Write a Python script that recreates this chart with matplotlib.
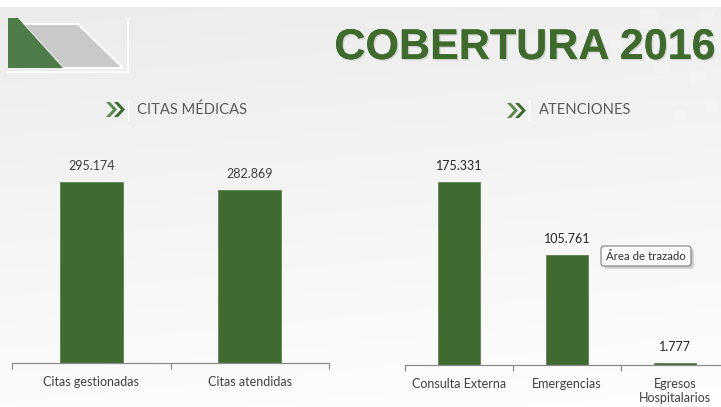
import numpy as np
import matplotlib
matplotlib.use("Agg")
import matplotlib.pyplot as plt
from matplotlib.patches import Polygon, FancyBboxPatch
import matplotlib.patheffects as pe

# ---------------- data ----------------
title = "COBERTURA 2016"
left_title = "CITAS MÉDICAS"
left_categories = ["Citas gestionadas", "Citas atendidas"]
left_values = [295174, 282869]
left_labels = ["295.174", "282.869"]

right_title = "ATENCIONES"
right_categories = ["Consulta Externa", "Emergencias", "Egresos\nHospitalarios"]
right_values = [175331, 105761, 1777]
right_labels = ["175.331", "105.761", "1.777"]

tooltip_text = "Área de trazado"

# ---------------- style ----------------
W, H = 721, 407
DPI = 100
BAR = "#3F6A30"
GREEN_TITLE = "#3E6B2C"
TXT = "#404040"
HDR = "#595959"
small_font = ["Lato", "DejaVu Sans"]

fig = plt.figure(figsize=(W / DPI, H / DPI), dpi=DPI)

# background in pixel coordinates
bg = fig.add_axes([0, 0, 1, 1], zorder=-10)
bg.set_xlim(0, W)
bg.set_ylim(H, 0)
bg.axis("off")
yy, xx = np.mgrid[0:H, 0:W]
grad = 0.925 + 0.06 * (yy / H) + 0.01 * (xx / W)
grad = np.clip(grad, 0, 1)
img = np.dstack([grad, grad, grad])
img[:7, :, :] = 1.0
bg.imshow(img, extent=(0, W, H, 0), aspect="auto", interpolation="bilinear")

# faint checker pattern top-right
for (x0, y0, s) in [(640, 10, 18), (670, 28, 16), (700, 12, 14), (655, 60, 14),
                    (690, 70, 16), (610, 40, 12), (705, 100, 12), (675, 110, 10)]:
    bg.add_patch(Polygon([(x0, y0), (x0 + s, y0), (x0 + s, y0 + s), (x0, y0 + s)],
                         closed=True, fc="white", ec="none", alpha=0.18))

# top-left decoration
bg.add_patch(Polygon([(23, 24), (78, 24), (123, 68), (63, 68)], closed=True,
                     fc="#C9C9C9", ec="white", lw=1.5))
bg.add_patch(Polygon([(8, 18), (18, 18), (63, 68), (8, 68)], closed=True,
                     fc="#4F7D4A", ec="none"))
bg.plot([8, 128], [72, 72], color="white", lw=1.5)
bg.plot([128, 128], [19, 72], color="white", lw=1.5)

# title
bg.text(715, 48, title, ha="right", va="center", fontsize=31,
        fontweight="bold", family=["Liberation Sans", "DejaVu Sans"],
        color=GREEN_TITLE,
        path_effects=[pe.withSimplePatchShadow(offset=(1, -1),
                                               shadow_rgbFace="#777777", alpha=0.25),
                      pe.Normal()])


def chevrons(x, top, bottom):
    mid = (top + bottom) / 2
    t, h = 4, 7
    for i, col in enumerate(["#5A8A4E", "#3B6B2D"]):
        xs = x + i * 8
        bg.add_patch(Polygon([(xs, top), (xs + t, top), (xs + t + h, mid),
                              (xs + t, bottom), (xs, bottom), (xs + h, mid)],
                             closed=True, fc=col, ec="none"))


chevrons(106, 102, 117)
bg.plot([128, 128], [100, 120], color="white", lw=1)
bg.text(137, 110, left_title, ha="left", va="center", fontsize=10.6,
        family=small_font, color=HDR)
chevrons(507, 103, 118)
bg.plot([529, 529], [100, 120], color="white", lw=1)
bg.text(539, 110, right_title, ha="left", va="center", fontsize=10.6,
        family=small_font, color=HDR)


def make_axes(x0, x1, ybot, ytop):
    return fig.add_axes([x0 / W, (H - ybot) / H, (x1 - x0) / W, (ybot - ytop) / H])


def style(ax, n):
    ax.set_facecolor("none")
    for s in ["top", "right", "left"]:
        ax.spines[s].set_visible(False)
    ax.spines["bottom"].set_color("#8C8C8C")
    ax.spines["bottom"].set_linewidth(0.9)
    ax.set_yticks([])
    ax.set_xlim(-0.5, n - 0.5)
    ax.set_xticks(np.arange(-0.5, n + 0.5, 1.0), minor=True)
    ax.tick_params(axis="x", which="minor", length=4, color="#8C8C8C", width=0.9)
    ax.tick_params(axis="x", which="major", length=0, pad=9, labelsize=9,
                   labelcolor=TXT)


# left chart: scale ~0.6125 px per thousand
axL = make_axes(12, 329, 363, 363 - 350 * 0.6125)
vals = np.array(left_values) / 1000
axL.bar(range(len(vals)), vals, width=0.40, color=BAR, edgecolor="#5C8250", lw=0.6)
axL.set_ylim(0, 350)
style(axL, len(vals))
axL.set_xticks(range(len(vals)))
axL.set_xticklabels(left_categories, family=small_font)
for i, (v, lab) in enumerate(zip(vals, left_labels)):
    axL.annotate(lab, (i, v), xytext=(0, 7), textcoords="offset points",
                 ha="center", va="bottom", fontsize=9, color=TXT, family=small_font)

# right chart: scale ~1.043 px per thousand
axR = make_axes(405, 729, 365, 365 - 200 * 1.043)
vals = np.array(right_values) / 1000
axR.bar(range(len(vals)), vals, width=0.39, color=BAR, edgecolor="#5C8250", lw=0.6)
axR.set_ylim(0, 200)
style(axR, len(vals))
axR.set_xticks(range(len(vals)))
axR.set_xticklabels(right_categories, family=small_font, linespacing=1.3)
for i, (v, lab) in enumerate(zip(vals, right_labels)):
    axR.annotate(lab, (i, v), xytext=(0, 7), textcoords="offset points",
                 ha="center", va="bottom", fontsize=9, color="#262626", family=small_font)

# tooltip
bg.add_patch(FancyBboxPatch((601, 246), 90, 20, boxstyle="round,pad=0,rounding_size=3",
                            fc="#FAFAFA", ec="#7F7F7F", lw=0.8, zorder=5,
                            path_effects=[pe.withSimplePatchShadow(offset=(2, -2),
                                                                   alpha=0.25)]))
bg.text(646, 256, tooltip_text, ha="center", va="center", fontsize=8.3,
        family=small_font, color="#333333", zorder=6)

fig.savefig("out.png", dpi=DPI)
